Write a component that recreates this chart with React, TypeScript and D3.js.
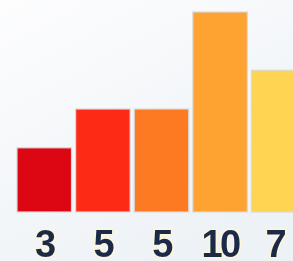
import React, { useEffect, useRef } from 'react';
import * as d3 from 'd3';

const categories = ['a', 'b', 'c', 'd', 'e'];
const values = [3, 5, 5, 10, 7];
const labels = ['3', '5', '5', '10', '7'];
const barColors = ['#dc0712', '#fd2b16', '#fe7a22', '#fea232', '#fed452'];

const W = 293;
const H = 261;

const App: React.FC = () => {
  const svgRef = useRef<SVGSVGElement>(null);

  useEffect(() => {
    if (!svgRef.current) return;
    const svg = d3.select(svgRef.current);
    svg.selectAll('*').remove();

    const defs = svg.append('defs');
    const bg = defs.append('linearGradient')
      .attr('id', 'bg-grad')
      .attr('x1', '0%').attr('y1', '0%')
      .attr('x2', '60%').attr('y2', '100%');
    bg.append('stop').attr('offset', '0%').attr('stop-color', '#fdfdfe');
    bg.append('stop').attr('offset', '100%').attr('stop-color', '#edf2f6');

    const glow = defs.append('filter')
      .attr('id', 'label-glow')
      .attr('x', '-30%').attr('y', '-30%')
      .attr('width', '160%').attr('height', '160%');
    glow.append('feGaussianBlur').attr('in', 'SourceGraphic').attr('stdDeviation', 0.6);

    svg.append('rect')
      .attr('width', W)
      .attr('height', H)
      .attr('fill', 'url(#bg-grad)');

    // step ~58.5px, fifth bar runs off the right edge
    const x = d3.scaleBand<string>()
      .domain(categories)
      .range([17, 306])
      .paddingInner(0.07)
      .paddingOuter(0);

    const y = d3.scaleLinear().domain([0, 10]).range([206, 12]);
    const baseline = 212;

    svg.append('g')
      .selectAll('rect')
      .data(values)
      .join('rect')
      .attr('x', (_, i) => x(categories[i])!)
      .attr('y', (d) => y(d))
      .attr('width', x.bandwidth())
      .attr('height', (d) => baseline - y(d))
      .attr('fill', (_, i) => barColors[i])
      .attr('stroke', '#d9d9d9')
      .attr('stroke-width', 1.2);

    svg.append('g')
      .attr('filter', 'url(#label-glow)')
      .selectAll('text')
      .data(labels)
      .join('text')
      .attr('x', (_, i) => x(categories[i])! + x.bandwidth() / 2 - (i === 4 ? 4 : 0))
      .attr('y', 257)
      .attr('text-anchor', 'middle')
      .attr('font-family', '"Liberation Sans", Arial, sans-serif')
      .attr('font-weight', 700)
      .attr('font-size', 38)
      .attr('letter-spacing', -2.5)
      .attr('fill', '#1b2a4a')
      .attr('stroke', '#fff6d8')
      .attr('stroke-width', 3)
      .attr('paint-order', 'stroke')
      .text((d) => d);
  }, []);

  return (
    <svg
      ref={svgRef}
      width={W}
      height={H}
      style={{ position: 'absolute', top: 0, left: 0, display: 'block' }}
    />
  );
};

export default App;
